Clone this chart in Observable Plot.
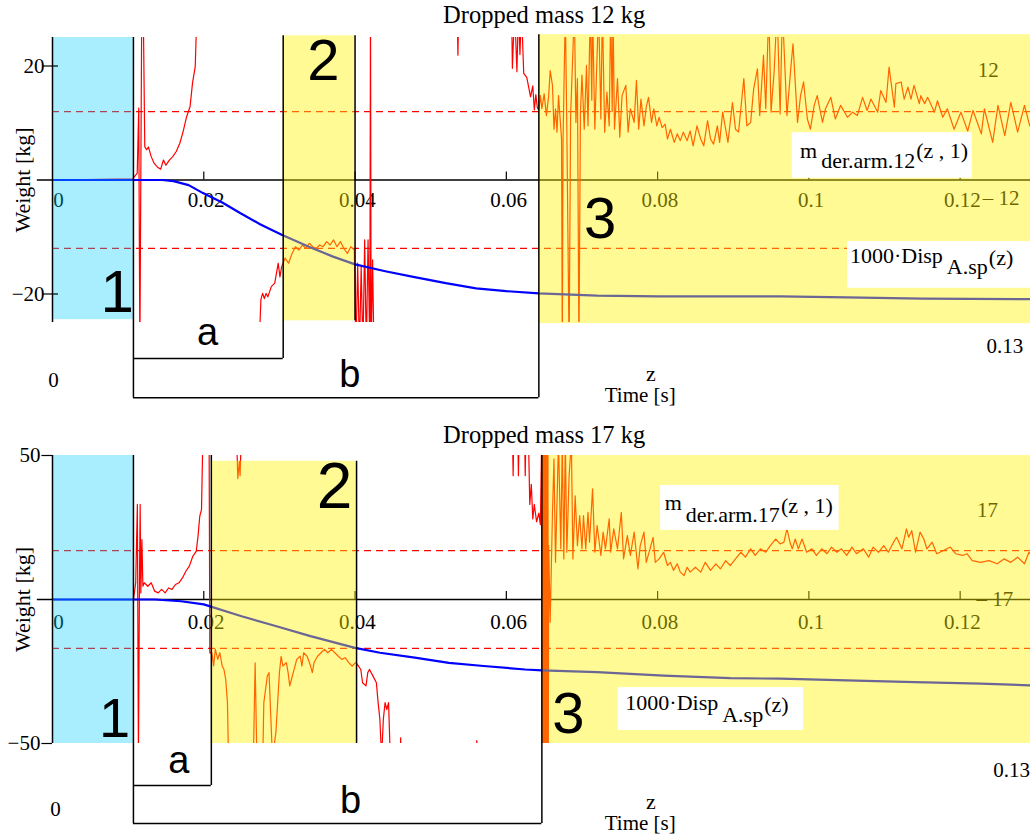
<!DOCTYPE html>
<html><head><meta charset="utf-8">
<script src="https://cdn.jsdelivr.net/npm/d3@7"></script>
<script src="https://cdn.jsdelivr.net/npm/@observablehq/plot@0.6"></script>
<style>body{margin:0;background:#fff;} svg{display:block;}</style>
</head><body><div id="chart"></div>
<script>
// ---------- data ----------
const xTicks = [0, 0.02, 0.04, 0.06, 0.08, 0.1, 0.12];
const xTickText = ["0", "0.02", "0.04", "0.06", "0.08", "0.1", "0.12"];
const yTicks12 = [20, -20];
const yTickText12 = ["20", "\u221220"];
const yTicks17 = [50, -50];
const yTickText17 = ["50", "\u221250"];
const limits12 = [12, -12];
const limits17 = [17, -17];

// measured arm force m_der.arm.12(z,1)  [time s, weight kg]  (null = break)
const sig12 = [
[0,0],[0.0106,0.2],[0.0112,1.2],[0.0114,12.6],[0.01155,-30],[0.0118,30],[0.0120,30],[0.0122,5.8],
[0.01245,5.3],[0.01268,5.8],[0.01305,4.1],[0.01345,2.9],[0.01385,2.3],[0.0143,1.9],[0.01467,3.5],
[0.01499,2.6],[0.01545,3.5],[0.0159,4.1],[0.01636,5.0],[0.01682,6.4],[0.01727,8.5],[0.01773,11.1],
[0.01819,12.9],[0.01851,17],[0.01887,19.9],[0.0191,30],[0.020,null],
[0.0273,-30],[0.02755,-21],[0.02778,-19.9],[0.02801,-20.8],[0.02824,-19.9],[0.02847,-20.5],[0.02893,-18.7],
[0.02938,-18.1],[0.02984,-14.6],[0.03007,-17],[0.0303,-15.2],[0.03075,-13.7],[0.03121,-14.6],[0.03167,-12.9],
[0.03213,-11.7],[0.03258,-12.3],[0.03304,-11.4],[0.0335,-12],[0.03395,-11.1],[0.03441,-11.7],[0.03487,-12],
[0.03532,-11.4],[0.03578,-11.7],[0.03624,-10.8],[0.0367,-11.4],[0.03715,-10.5],[0.03761,-11.7],[0.03807,-10.8],
[0.03852,-12],[0.03898,-12.9],[0.03944,-11.7],[0.0399,-12.3],[0.04012,-30],[0.04035,-14.6],[0.04058,-30],
[0.04081,-15.2],[0.04104,-30],[0.04127,-10.5],[0.04149,-30],[0.04172,-10.5],[0.04195,-30],[0.04204,30],
[0.04213,-30],[0.04232,-14],[0.0425,-30],[0.043,null],
[0.0535,30],[0.0536,21.9],[0.0537,30],[0.054,null],
[0.0607,30],[0.0608,19.6],[0.0611,30],[0.0614,19],[0.0616,30],[0.0618,22],[0.0620,30],[0.0623,18.7],
[0.0627,18],[0.0630,16],[0.0632,14.6],[0.0635,16.5],[0.0637,12.3],[0.0639,15],[0.0641,12.7],
[0.0643,12.2],[0.0645,14.8],[0.0647,12.5],[0.0650,15.1],[0.0653,11.3],[0.0656,14.8],[0.0658,19.2],
[0.0661,16.6],[0.0663,8.9],[0.0665,12.5],[0.0667,8.4],[0.0669,14.8],[0.0673,7.2],[0.0674,-30],[0.0675,7.2],
[0.0678,30],[0.0680,8.9],[0.0683,-30],[0.0685,11.3],[0.0690,30],[0.0692,10.1],[0.0694,17.8],[0.0696,-30],
[0.0698,11.9],[0.0700,18.4],[0.0703,8.9],[0.0706,20.1],[0.0708,9.5],[0.0711,30],[0.0713,14],[0.0714,30],
[0.0717,8.9],[0.0719,17.8],[0.0722,30],[0.0725,10.7],[0.0727,30],[0.0730,8.4],[0.0733,15.4],[0.0736,9.5],
[0.0738,30],[0.0740,12],[0.0741,30],[0.0743,8.9],[0.0747,17.8],[0.0750,7.5],[0.0753,14.8],[0.0758,16.6],
[0.0761,8.4],[0.0764,12.5],[0.0769,10.1],[0.0772,17.5],[0.0775,8.9],[0.0778,14.2],[0.0782,9.5],[0.0785,12.8],
[0.0788,14.5],[0.0792,10.1],[0.0795,12.5],[0.0799,9.5],[0.0802,11.0],[0.0806,9.2],[0.0810,9.8],[0.0813,7.2],
[0.0817,8.9],[0.0822,6.6],[0.0826,8.1],[0.0830,6.9],[0.0834,8.4],[0.0839,6.9],[0.0843,8.6],[0.0847,6.0],
[0.0852,9.5],[0.0857,7.2],[0.0861,6.0],[0.0866,10.4],[0.0870,7.2],[0.0874,6.3],[0.0879,9.5],[0.0882,6.6],
[0.0886,11.9],[0.0890,8.9],[0.0893,6.6],[0.0899,13.6],[0.0903,8.9],[0.0907,8.4],[0.0914,17.8],[0.0918,9.5],
[0.0923,10.1],[0.0927,16.0],[0.0932,19.5],[0.0935,11.3],[0.0940,21.9],[0.0943,12.5],[0.0947,30],[0.0950,11.9],
[0.0954,18.9],[0.0958,30],[0.0962,11.6],[0.0965,30],[0.0971,11.3],[0.0976,19.5],[0.0979,23.9],[0.0985,10.1],
[0.0989,14.8],[0.0993,17.2],[0.0998,10.7],[0.1002,8.9],[0.1007,13.1],[0.1011,14.8],[0.1018,10.1],[0.1022,12.5],
[0.1029,14.5],[0.1035,10.7],[0.1042,13.1],[0.1051,11.0],[0.1058,11.9],[0.1064,11.3],[0.1071,14.5],[0.1077,12.2],
[0.1082,14.2],[0.1091,11.9],[0.1095,15.7],[0.1102,13.6],[0.1106,19.8],[0.1113,12.8],[0.1115,16.9],[0.1122,17.2],
[0.1126,14.2],[0.1131,16.3],[0.1135,14.2],[0.1139,16.6],[0.1146,13.4],[0.1148,14.8],[0.1153,13.4],[0.1157,14.5],
[0.1166,11.9],[0.1170,13.9],[0.1177,11.0],[0.1183,12.5],[0.1192,8.9],[0.1201,11.9],[0.1210,8.6],[0.1217,12.2],
[0.1228,8.1],[0.1232,12.5],[0.1243,6.6],[0.1250,13.1],[0.1259,7.8],[0.1267,13.6],[0.1276,8.4],[0.1285,13.1],
[0.1292,9.5],[0.1300,11.9]
];
// 1000·Disp A.sp(z), 12 kg drop
const disp12 = [
[0,0],[0.0145,0],[0.016,-0.2],[0.018,-0.9],[0.0199,-2.3],[0.0225,-4.0],[0.0248,-5.8],[0.0275,-7.8],
[0.0303,-9.6],[0.0339,-11.7],[0.037,-13.4],[0.040,-14.8],[0.044,-16.0],[0.0477,-17.0],[0.052,-18.1],
[0.056,-19.0],[0.060,-19.5],[0.0643,-19.9],[0.072,-20.3],[0.08,-20.4],[0.0962,-20.4],[0.105,-20.6],
[0.115,-20.8],[0.1293,-20.9]
];

// measured arm force m_der.arm.17(z,1)
const sig17 = [
[0,0],[0.0107,0],[0.0110,5.8],[0.01122,33],[0.01136,-55],[0.0115,6.9],[0.01159,33],[0.01168,2.3],
[0.01182,20.8],[0.01195,4.6],[0.01214,5.8],[0.0126,4.6],[0.01305,5.8],[0.01351,2.9],[0.01397,2.3],
[0.01443,3.5],[0.01489,2.3],[0.01534,4.0],[0.0158,3.5],[0.01626,5.2],[0.01672,5.8],[0.01718,7.5],
[0.01763,9.8],[0.01809,11.6],[0.01855,15],[0.01901,16.8],[0.01924,22],[0.01947,28.9],[0.0197,31.2],
[0.01983,49.7],[0.0199,60],[0.0207,60],[0.0208,-18.5],[0.02107,-18.5],[0.0213,-23.1],[0.02153,-17.3],
[0.02185,-20.8],[0.02212,-18.5],[0.02244,-23.1],[0.02267,-24.3],[0.0229,-27.7],[0.02313,-35.8],[0.02327,-55],[0.0235,null],
[0.0243,60],[0.0245,42],[0.0247,48],[0.0248,43],[0.0250,60],[0.0255,null],
[0.02656,-55],[0.02679,-22],[0.02702,-55],[0.0274,null],
[0.0278,-55],[0.02794,-35.8],[0.0284,-26.6],[0.02863,-25.4],[0.02885,-40],[0.02908,-55],[0.02954,-46],
[0.0300,-25.4],[0.03023,-19.7],[0.03046,-23.1],[0.03092,-21.9],[0.03115,-25.4],[0.03137,-30],[0.0316,-27.7],
[0.03183,-25.4],[0.03206,-23.1],[0.03229,-20.8],[0.03275,-19.7],[0.03298,-23.1],[0.0332,-18.5],[0.03366,-19.7],
[0.03412,-23.1],[0.03435,-25.4],[0.03458,-21.9],[0.03504,-19.7],[0.0355,-18.5],[0.03595,-17.3],[0.03641,-18.5],
[0.03687,-17.3],[0.03733,-18.5],[0.03779,-19.7],[0.03824,-20.8],[0.0387,-20.2],[0.03916,-21.9],[0.03962,-23.1],
[0.04008,-21.9],[0.0403,-22.5],[0.04076,-24.3],[0.04099,-28.9],[0.04145,-30],[0.04168,-25.4],[0.04191,-24.3],
[0.04237,-26.6],[0.04282,-28.9],[0.04305,-35.8],[0.04328,-41.6],[0.04351,-55],[0.04374,-41.6],[0.04397,-35.8],
[0.0442,-38.2],[0.04443,-35.8],[0.04466,-55],[0.045,null],
[0.0460,-55],[0.04603,-48],[0.0461,-55],[0.0465,null],
[0.0560,-55],[0.0561,-49],[0.0562,-55],[0.0565,null],
[0.0608,60],[0.0609,43],[0.0610,60],[0.0612,null],
[0.0615,60],[0.0616,43],[0.0617,60],[0.0620,null],
[0.0624,60],[0.0625,43],[0.0626,60],[0.0629,60],[0.0631,33],[0.0633,40],[0.0635,28],[0.0637,33],[0.0640,27],
[0.0643,30],[0.0645,26],
[0.0647,60],[0.06475,-55],[0.0648,60],[0.06485,-55],[0.0649,60],[0.06495,-55],[0.0650,60],[0.06505,-55],
[0.0651,60],[0.06515,-55],[0.0652,60],[0.06525,-55],[0.0653,60],[0.06535,-55],[0.0654,60],[0.06545,-55],
[0.0655,60],[0.06555,-55],
[0.0656,18.7],[0.0658,-7.9],[0.0661,30],[0.0663,48.8],[0.0665,12.9],[0.0669,55],[0.0672,17.6],[0.0674,55],
[0.0676,14.1],[0.0678,55],[0.0680,16.4],[0.0683,43],[0.0686,55],[0.0688,14.1],[0.0691,36],[0.0694,18.7],
[0.0697,29.1],[0.0700,17.6],[0.0702,29.1],[0.0705,17.6],[0.0708,30.3],[0.0710,19.9],[0.0714,38.4],[0.0717,16.4],
[0.0720,25.7],[0.0725,15.3],[0.0728,23.4],[0.0731,17.6],[0.0736,28],[0.0738,16.4],[0.0742,24.5],[0.0747,17.6],
[0.0752,30.3],[0.0755,14.1],[0.0760,22.2],[0.0764,15.3],[0.0769,23.4],[0.0774,10.6],[0.0777,18.7],[0.0782,23.4],
[0.0785,12.9],[0.0790,17.6],[0.0794,21.6],[0.0797,12.9],[0.0802,14.1],[0.0808,16.4],[0.0813,11.8],[0.0817,12.9],
[0.0821,10.1],[0.0826,12.4],[0.0830,9.5],[0.0835,8.3],[0.0839,11.2],[0.0843,9.5],[0.0850,11.2],[0.0857,9.5],
[0.0863,12.9],[0.0870,10.1],[0.0877,12.4],[0.0883,10.6],[0.0890,13.5],[0.0896,11.8],[0.0903,14.1],[0.0910,16.4],
[0.0916,14.7],[0.0923,17.6],[0.0929,15.3],[0.0936,17.6],[0.0943,16.4],[0.0949,18.7],[0.0956,21],[0.0962,19.3],
[0.0967,19.9],[0.0971,24.5],[0.0975,19.9],[0.0978,17.6],[0.0982,21],[0.0986,17.6],[0.0991,21],[0.0997,16.4],
[0.1004,17.6],[0.1010,15.3],[0.1017,17.6],[0.1024,15.9],[0.1030,18.2],[0.1037,16.4],[0.1043,17.6],[0.1050,15.3],
[0.1057,18.2],[0.1063,15.9],[0.1072,17.6],[0.1079,14.7],[0.1085,18.2],[0.1092,16.4],[0.1099,18.7],[0.1105,16.4],
[0.1112,19.9],[0.1116,21.6],[0.1123,17.6],[0.1129,24.5],[0.1132,21.6],[0.1136,23.9],[0.1141,16.4],[0.1147,23.4],
[0.1152,21],[0.1156,17.6],[0.1163,19.9],[0.1169,15.9],[0.1178,17],[0.1187,18.2],[0.1194,15.9],[0.1203,15.3],
[0.1209,15.9],[0.1216,13.5],[0.1227,12.9],[0.1238,13.5],[0.1249,12.4],[0.1258,14.1],[0.1267,12.9],[0.1276,14.7],
[0.1285,12.4],[0.1291,16.4],[0.1300,14]
];
const disp17 = [
[0,0],[0.0135,0],[0.0170,-0.6],[0.0200,-1.7],[0.0250,-5.8],[0.0295,-9.2],[0.0341,-12.7],[0.0400,-16.8],
[0.0433,-18.5],[0.0479,-20.2],[0.0524,-22],[0.0570,-23.1],[0.0625,-24.3],[0.0647,-24.6],[0.0720,-25.2],
[0.0808,-26.4],[0.0896,-27.3],[0.0962,-27.5],[0.1050,-28.1],[0.1140,-28.7],[0.1227,-29.2],[0.1293,-29.8]
];

// ---------- drawing ----------
const SERIF = "'Liberation Serif','Times New Roman',serif";
const SANS = "'Liberation Sans',Arial,sans-serif";
const XMAX = 0.1293;

function panel(c) {
  const [yLo, yHi] = c.yDomain;
  const svg = Plot.plot({
    width: 1030, height: c.height,
    marginLeft: 52, marginRight: 0, marginTop: c.mt, marginBottom: c.mb,
    x: {domain: [0, XMAX], axis: null},
    y: {domain: c.yDomain, axis: null},
    style: {fontFamily: SERIF, background: "white", color: "black"},
    marks: [
      Plot.ruleY(c.limits, {stroke: "#ff0000", strokeWidth: 1.2, strokeDasharray: "7,5"}),
      Plot.ruleY([0], {x1: -0.002, x2: XMAX, stroke: "#000", strokeWidth: 1.4}),
      Plot.ruleX(xTicks.slice(1), {y1: 0, y2: c.tickLen, stroke: "#000", strokeWidth: 1.2}),
      Plot.text(xTicks, {x: d => d + (d === 0 ? 0.0008 : 0.0003), y: c.tickLabelY, text: (d, i) => xTickText[i],
        fontSize: 21, lineAnchor: "bottom", fontFamily: SERIF}),
      Plot.text(c.limitText, {x: d => d[1], y: d => d[2], text: d => d[0],
        fontSize: 21, lineAnchor: "bottom", fontFamily: SERIF}),
      Plot.line(c.sig, {x: d => d[0], y: d => d[1], stroke: "#ff0000", strokeWidth: 1.2, clip: true}),
      Plot.line(c.disp, {x: d => d[0], y: d => d[1], stroke: "#0000ff", strokeWidth: 2.2, clip: true}),
      Plot.rect([c.zone1], {x1: d => d[0], x2: d => d[1], y1: d => d[2], y2: d => d[3], fill: "#00ccff", fillOpacity: 0.34}),
      Plot.rect(c.yellow, {x1: d => d[0], x2: d => d[1], y1: d => d[2], y2: d => d[3], fill: "#fff200", fillOpacity: 0.42}),
      Plot.ruleX(c.bounds, {x: d => d[0], y1: d => d[1], y2: d => d[2], stroke: "#000", strokeWidth: 1.5}),
      Plot.ruleY(c.brackets, {y: d => d[0], x1: d => d[1], x2: d => d[2], stroke: "#000", strokeWidth: 1.5}),
      Plot.ruleX([0], {y1: yLo, y2: yHi, stroke: "#000", strokeWidth: 1.5}),
      Plot.ruleY(c.yTicks, {x1: c.yTickX[0], x2: c.yTickX[1], stroke: "#000", strokeWidth: 1.2}),
      Plot.text(c.yTicks, {x: c.yLabelX, y: d => d, text: (d, i) => c.yTickText[i], textAnchor: "end",
        lineAnchor: "middle", fontSize: 21, fontFamily: SERIF}),
      Plot.rect(c.boxes, {x1: d => d[0], x2: d => d[1], y1: d => d[2], y2: d => d[3], fill: "white"}),
      Plot.text(c.bigLabels, {x: d => d[1], y: d => d[2], text: d => d[0], fontFamily: SANS, fontSize: d => d[3], lineAnchor: "bottom"}),
      Plot.text(c.abLabels, {x: d => d[1], y: d => d[2], text: d => d[0], fontFamily: SANS, fontSize: 38, lineAnchor: "bottom"}),
      Plot.text(c.serifText, {x: d => d[1], y: d => d[2], text: d => d[0], fontFamily: SERIF, fontSize: d => d[3], lineAnchor: "bottom"}),
      Plot.text(["Weight [kg]"], {x: -0.0030, y: 0, text: d => d, rotate: -90, fontFamily: SERIF, fontSize: 22, lineAnchor: "bottom"})
    ]
  });
  // formula annotations with sub/superscripts
  const sx = svg.scale("x"), sy = svg.scale("y");
  const fx = d3.scaleLinear(sx.domain, sx.range), fy = d3.scaleLinear(sy.domain, sy.range);
  for (const f of c.formulas) {
    const t = d3.select(svg).append("text").attr("x", fx(f.x)).attr("y", fy(f.y))
      .attr("text-anchor", "start")
      .attr("font-family", SERIF).attr("font-size", 22).attr("fill", "black");
    let prev = 0;
    for (const [s, shift, gap] of f.parts) {
      t.append("tspan").attr("dy", shift - prev).attr("dx", gap).text(s);
      prev = shift;
    }
  }
  return svg;
}

const top12 = panel({
  height: 420, mt: 37, mb: 98, yDomain: [-25, 25],
  sig: sig12, disp: disp12, limits: limits12,
  tickLen: 1.4, tickLabelY: -4.8,
  limitText: [["12", 0.1237, 18.0], ["\u2013 12", 0.1254, -4.47]],
  zone1: [0, 0.0107, -24.5, 25],
  yellow: [[0.0305, 0.040, -24.7, 25.3], [0.0643, XMAX, -25.2, 25.5]],
  bounds: [[0.0107, 25, -38.2], [0.0305, 25.3, -31.3], [0.040, 25.3, -24.7], [0.0643, 25.5, -38.2]],
  brackets: [[-31.3, 0.0107, 0.0305], [-38.2, 0.0107, 0.0643]],
  yTicks: yTicks12, yTickText: yTickText12, yTickX: [-0.0012, 0.0008], yLabelX: -0.00106,
  boxes: [[0.0978, 0.1216, 0.3, 8.3], [0.1051, XMAX, -19.0, -10.8]],
  bigLabels: [["1", 0.00855, -23.1, 60], ["2", 0.0358, 17.46, 58], ["3", 0.0724, -10.26, 58]],
  abLabels: [["a", 0.0205, -29.0], ["b", 0.0393, -36.4]],
  serifText: [["Dropped mass 12 kg", 0.0650, 27.5, 24.5], ["0", 0.00013, -36.4, 21], ["0.13", 0.1259, -30.4, 21],
              ["z", 0.0791, -35.2, 22], ["Time [s]", 0.0777, -39.0, 21]],
  formulas: [
    {x: 0.0989, y: 3.77, parts: [["m", 0, 0], ["der.arm.12", 10, 4], ["(z , 1)", 0, 1]]},
    {x: 0.1055, y: -14.65, parts: [["1000\u00B7Disp", 0, 0], ["A.sp", 11, 4], ["(z)", 2, 1]]}
  ]
});

const bottom17 = panel({
  height: 419, mt: 35, mb: 96, yDomain: [-50, 50],
  sig: sig17, disp: disp17, limits: limits17,
  tickLen: 2.8, tickLabelY: -10.1,
  limitText: [["17", 0.1236, 28.5], ["\u2013 17", 0.1246, -2.1]],
  zone1: [0, 0.0107, -50, 50],
  yellow: [[0.0210, 0.0402, -50, 48], [0.0647, XMAX, -50, 50]],
  bounds: [[0.0107, 50, -77.8], [0.0210, 50, -64.6], [0.0402, 48, -50], [0.0647, 50, -77.8]],
  brackets: [[-64.6, 0.0107, 0.0210], [-77.8, 0.0107, 0.0647]],
  yTicks: yTicks17, yTickText: yTickText17, yTickX: [-0.0014, 0], yLabelX: -0.0016,
  boxes: [[0.0804, 0.1040, 24, 39.6], [0.0748, 0.0993, -45.5, -30.6]],
  bigLabels: [["1", 0.0082, -47.6, 56], ["2", 0.0373, 31.9, 64], ["3", 0.0682, -46.5, 58]],
  abLabels: [["a", 0.0167, -60.1], ["b", 0.0394, -74]],
  serifText: [["Dropped mass 17 kg", 0.0650, 54.2, 24.5], ["0", 0.0004, -75, 21], ["0.13", 0.1268, -61.8, 21],
              ["z", 0.0791, -72.6, 22], ["Time [s]", 0.0777, -80.2, 21]],
  formulas: [
    {x: 0.0810, y: 30.9, parts: [["m", 0, 0], ["der.arm.17", 12, 4], ["(z , 1)", 3, 1]]},
    {x: 0.0758, y: -38.5, parts: [["1000\u00B7Disp", 0, 0], ["A.sp", 12, 4], ["(z)", 2, 1]]}
  ]
});

const root = document.getElementById("chart");
root.appendChild(top12);
root.appendChild(bottom17);
</script>
</body></html>
